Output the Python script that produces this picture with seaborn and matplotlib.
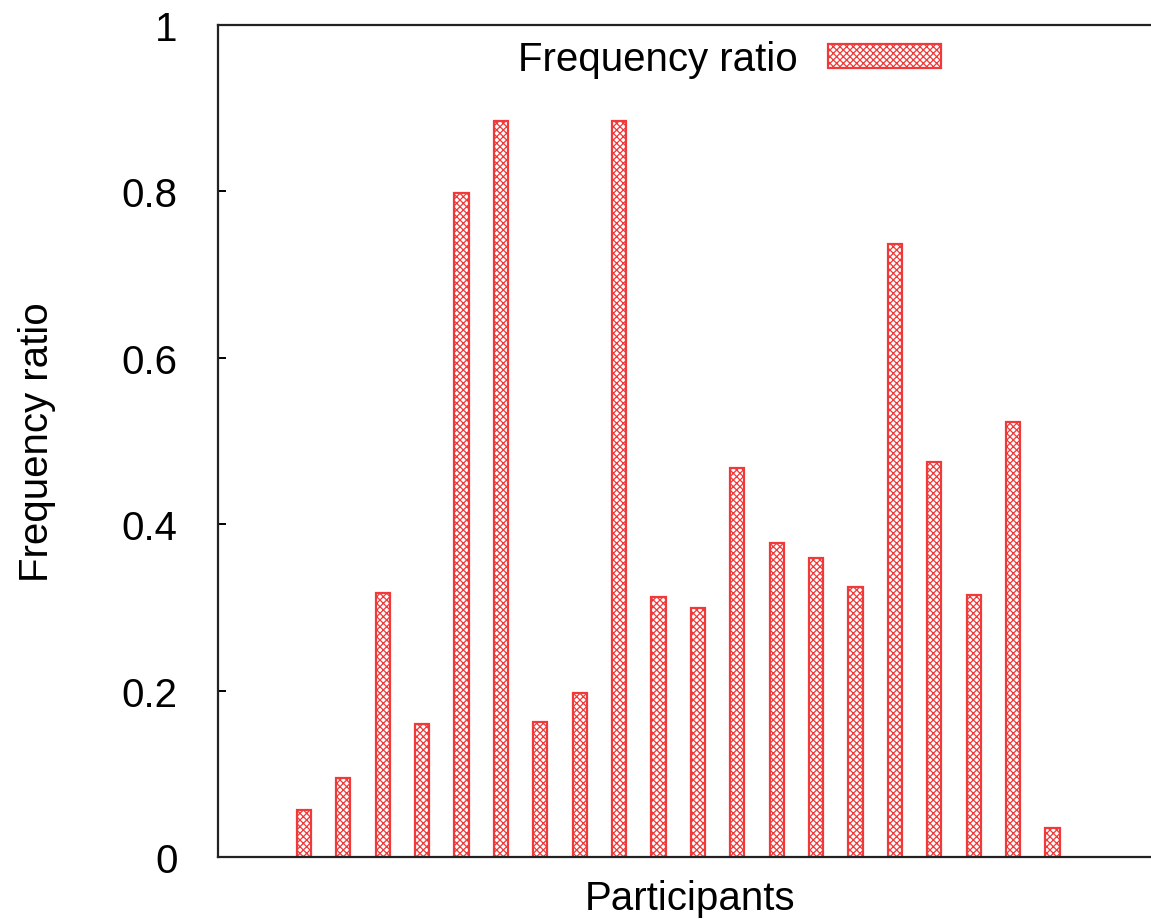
import matplotlib
matplotlib.use("Agg")
import matplotlib.pyplot as plt
import seaborn as sns

# Values (20 participants)
participants = [f"P{i}" for i in range(1, 21)]
freq_ratio = [0.057, 0.095, 0.317, 0.160, 0.798, 0.885, 0.162, 0.197, 0.885, 0.312,
              0.299, 0.467, 0.378, 0.359, 0.324, 0.737, 0.475, 0.315, 0.523, 0.035]
y_ticks = [0, 0.2, 0.4, 0.6, 0.8, 1]
y_tick_labels = ["0", "0.2", "0.4", "0.6", "0.8", "1"]

sns.set_theme(style="white")
plt.rcParams['font.family'] = ['Liberation Sans', 'DejaVu Sans']
plt.rcParams['text.color'] = 'black'
plt.rcParams['axes.labelcolor'] = 'black'
plt.rcParams['hatch.linewidth'] = 0.9

red = '#f03a3a'

fig = plt.figure(figsize=(11.51, 9.2), dpi=100)
ax = fig.add_axes([218 / 1151, 62 / 920, (1162 - 218) / 1151, (858 - 26) / 920])

sns.barplot(x=participants, y=freq_ratio, ax=ax, color='white', saturation=1,
            width=0.36, edgecolor=red, hatch='xxxxx', linewidth=1.6,
            label='Frequency ratio')

ax.set_xlim(-2.18, 21.78)
ax.set_ylim(0, 1)
ax.set_xticks([])
ax.set_yticks(y_ticks)
ax.set_yticklabels(y_tick_labels)
ax.tick_params(axis='y', direction='in', length=6, width=1.4, pad=29,
               labelsize=29, left=True, colors='black')

for side in ['left', 'bottom', 'top']:
    ax.spines[side].set_color('#222222')
    ax.spines[side].set_linewidth(1.6)
ax.spines['right'].set_visible(False)

ax.set_xlabel('Participants', fontsize=29, labelpad=16, color='black')
ax.set_ylabel('Frequency ratio', fontsize=29, labelpad=47, color='black')

leg = ax.legend(loc='upper center', bbox_to_anchor=(0.542, 1.011), frameon=False,
                fontsize=29, markerfirst=False, handlelength=2.8, handleheight=0.55,
                handletextpad=0.75, borderaxespad=0.2)
for t in leg.get_texts():
    t.set_color('black')

fig.savefig('out.png', dpi=100)
